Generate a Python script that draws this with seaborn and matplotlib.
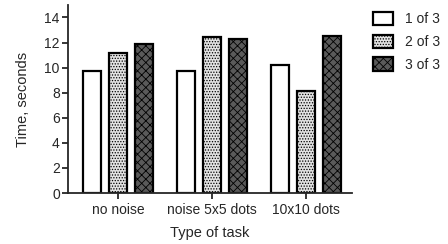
import pandas as pd
import matplotlib
matplotlib.use("Agg")
import matplotlib.pyplot as plt
import seaborn as sns
from matplotlib.patches import Patch

# Data
tasks = ["no noise", "noise 5x5 dots", "10x10 dots"]
runs = ["1 of 3", "2 of 3", "3 of 3"]
run1 = [9.75, 9.75, 10.2]
run2 = [11.2, 12.4, 8.15]
run3 = [11.9, 12.3, 12.5]

df = pd.DataFrame({
    "task": tasks * 3,
    "run": [runs[0]] * 3 + [runs[1]] * 3 + [runs[2]] * 3,
    "time": run1 + run2 + run3,
})

sns.set_style("ticks")
plt.rcParams["font.family"] = ["Liberation Sans", "DejaVu Sans"]
plt.rcParams["hatch.linewidth"] = 0.6

fig = plt.figure(figsize=(4.48, 2.44), dpi=100)
ax = fig.add_axes([0.152, 0.209, 0.634, 0.771])

sns.barplot(data=df, x="task", y="time", hue="run", order=tasks,
            hue_order=runs, width=0.84, ax=ax, legend=False,
            edgecolor="black", linewidth=1.6)

fills = ["white", "#e2e2e2", "#5a5a5a"]
hatches = [None, "......", "xxxx"]
n = len(tasks)
for i, bar in enumerate(ax.patches[:n * len(runs)]):
    k = i // n
    cx = bar.get_x() + bar.get_width() / 2
    bar.set_width(0.19)
    bar.set_x(cx - 0.095)
    bar.set_facecolor(fills[k])
    bar.set_hatch(hatches[k])

ax.set_ylim(0, 15)
ax.set_xlim(-0.53, 2.49)
ax.set_yticks([0, 2, 4, 6, 8, 10, 12, 14])
sns.despine(ax=ax)
for s in ["left", "bottom"]:
    ax.spines[s].set_linewidth(1.3)
ax.tick_params(axis="both", width=1.3, length=4, labelsize=10, pad=2)
ax.tick_params(axis="x", pad=3)
ax.set_xlabel("Type of task", fontsize=10.5, labelpad=7)
ax.set_ylabel("Time, seconds", fontsize=10.5, labelpad=10)

handles = [Patch(facecolor=fills[k], hatch=hatches[k], edgecolor="black",
                 linewidth=1.6) for k in range(len(runs))]
fig.legend(handles, runs, loc="upper left", bbox_to_anchor=(0.815, 0.985),
           frameon=False, fontsize=10, handlelength=1.4, handleheight=1.1,
           handletextpad=0.9, labelspacing=0.6, borderaxespad=0.2)

fig.savefig("out.png", dpi=100)
